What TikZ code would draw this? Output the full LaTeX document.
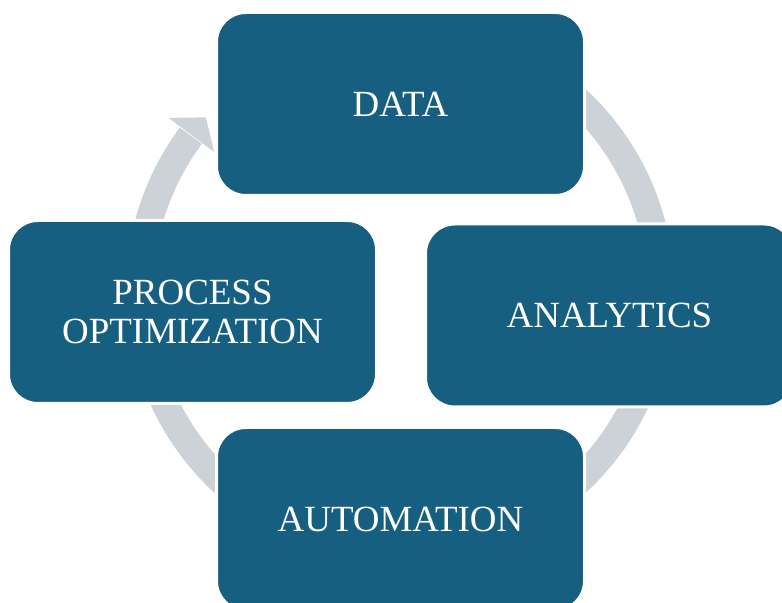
\documentclass[tikz,border=0pt]{standalone}
\usepackage{fontspec}
\setmainfont{Liberation Serif}
\definecolor{boxteal}{HTML}{175F80}
\definecolor{ringgray}{HTML}{CDD1D8}
\begin{document}
\begin{tikzpicture}[x=0.75pt,y=0.75pt,
  stagebox/.style={rectangle, rounded corners=22pt, fill=boxteal, draw=white,
    line width=2.25pt, minimum width=276pt, minimum height=137.25pt,
    text=white, font=\fontsize{27.7}{28.8}\selectfont, align=center, inner sep=0pt},
  ringband/.style={draw=ringgray, line width=20.5pt}]
\path[use as bounding box, clip] (0,0) rectangle (782,603);
\fill[white] (0,0) rectangle (782,603);
% circular arrow ring behind the boxes
\draw[ringband] ([shift={(400,312)}]125:260.5) arc[start angle=125, end angle=-216.6, radius=260.5];
\fill[ringgray, shift={(400,312)}] (143.2:232) -- (138.2:260.5) -- (143.2:289) -- cycle;
% boxes
\node[stagebox] (data) at (400.5,499) {DATA};
\node[stagebox] (analytics) at (609.5,287.5) {ANALYTICS};
\node[stagebox] (automation) at (400.5,84) {AUTOMATION};
\node[stagebox] (process) at (192.5,291) {PROCESS\\OPTIMIZATION};
\end{tikzpicture}
\end{document}
